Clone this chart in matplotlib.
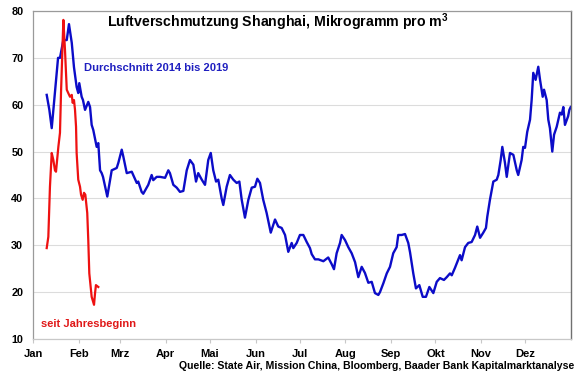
import matplotlib
matplotlib.use("Agg")
import matplotlib.pyplot as plt

plt.rcParams['font.family'] = ['Liberation Sans', 'DejaVu Sans']
plt.rcParams['mathtext.fontset'] = 'custom'
plt.rcParams['mathtext.rm'] = 'Liberation Sans:bold'
plt.rcParams['mathtext.bf'] = 'Liberation Sans:bold'
plt.rcParams['mathtext.it'] = 'Liberation Sans:bold'

# Month tick positions (day of year) and labels
month_days = [0, 31, 59, 90, 120, 151, 181, 212, 243, 273, 304, 334]
month_labels = ["Jan", "Feb", "Mrz", "Apr", "Mai", "Jun", "Jul", "Aug", "Sep", "Okt", "Nov", "Dez"]
yticks = [10, 20, 30, 40, 50, 60, 70, 80]

# Average 2014-2019 (day of year, µg/m3)
avg_day = [9.3, 11.1, 12.7, 17.0, 18.3, 20.6, 22.9, 24.4, 26.3, 27.8, 29.6, 30.7, 31.4, 33.0, 33.9,
           35.3, 37.5, 38.7, 39.8, 40.9, 43.2, 44.3, 45.5, 46.6, 47.5, 50.4, 53.4, 56.8, 57.9, 60.2,
           61.3, 63.6, 67.0, 68.0, 70.4, 71.4, 73.7, 74.8, 78.2, 80.5, 81.6, 83.9, 86.2, 89.6, 91.8,
           92.9, 95.2, 97.5, 99.7, 102.0, 104.3, 106.5, 108.8, 110.6, 112.1, 114.5, 116.7, 118.9, 120.6,
           122.3, 124.2, 125.7, 128.0, 129.1, 131.4, 133.6, 135.9, 138.2, 140.0, 141.6, 143.8, 146.1,
           148.4, 150.6, 152.2, 154.0, 156.2, 158.5, 161.3, 164.2, 166.4, 168.7, 171.0, 173.2, 175.5,
           176.6, 178.9, 181.1, 183.4, 185.7, 187.9, 189.1, 191.3, 193.6, 197.0, 200.3, 202.6, 204.2,
           206.0, 208.3, 209.4, 211.7, 213.9, 216.2, 218.5, 220.7, 223.0, 225.2, 227.5, 229.8, 232.0,
           234.3, 235.4, 237.7, 240.0, 242.2, 244.4, 246.7, 247.8, 250.1, 252.4, 254.6, 255.8, 258.0,
           259.8, 262.1, 264.4, 266.6, 268.9, 271.6, 273.9, 276.1, 278.8, 280.7, 282.9, 284.1, 286.3,
           289.7, 290.8, 293.1, 295.3, 297.6, 299.9, 301.4, 303.3, 305.5, 307.3, 308.2, 310.0, 312.3,
           314.6, 315.7, 317.3, 318.4, 320.2, 321.4, 323.6, 325.9, 328.2, 329.2, 331.5, 332.6, 333.8,
           335.3, 337.2, 338.3, 339.4, 341.0, 342.8, 344.0, 345.8, 346.7, 348.5, 349.6, 350.7, 352.3,
           353.5, 355.3, 357.5, 358.7, 359.8, 360.9, 363.0, 363.9, 364.8]
avg_val = [62.1, 58.9, 55.0, 70.0, 70.0, 73.8, 73.8, 77.2, 73.2, 68.0, 63.8, 62.5, 64.6, 61.7, 61.0,
           58.9, 60.6, 59.5, 55.7, 54.6, 51.0, 51.8, 46.0, 45.4, 44.6, 40.4, 46.0, 46.5, 47.6, 50.4,
           48.9, 45.4, 45.7, 45.0, 43.3, 43.6, 41.4, 41.0, 42.9, 45.0, 43.9, 44.6, 44.6, 44.4, 46.0,
           45.4, 42.9, 42.3, 41.4, 41.6, 46.0, 48.2, 47.2, 43.6, 45.4, 44.0, 42.9, 48.2, 49.7,
           46.0, 43.6, 44.0, 40.0, 38.6, 42.5, 45.0, 44.0, 43.3, 43.6, 39.7, 35.9, 39.7,
           42.3, 42.5, 44.2, 43.3, 39.7, 36.9, 32.7, 35.5, 34.0, 33.7, 32.2, 28.6, 30.5,
           29.4, 30.5, 32.2, 32.2, 30.7, 29.4, 28.1, 27.0, 27.0, 26.6, 27.4, 26.0, 24.9,
           28.3, 30.5, 32.2, 31.1, 29.6, 28.3, 26.4, 23.2, 25.4, 24.1, 22.0, 22.2, 19.8,
           19.4, 20.0, 21.9, 24.0, 25.4, 28.3, 29.6, 32.2, 32.2, 32.4, 30.5, 28.5, 24.0,
           20.8, 21.5, 19.0, 19.0, 21.1, 19.8, 22.2, 23.0, 22.6, 23.2, 24.0, 23.6, 25.2,
           27.9, 26.8, 29.6, 30.5, 30.7, 32.2, 34.0, 31.6, 32.7, 33.7, 36.1, 39.7, 43.6,
           44.0, 45.0, 48.2, 51.0, 47.6, 44.6, 49.7, 49.3, 46.0, 45.0, 48.2, 51.0, 50.8,
           54.2, 56.8, 61.0, 66.8, 65.3, 68.1, 65.3, 61.7, 63.2, 61.0, 56.8, 55.0, 50.0,
           53.6, 55.3, 58.3, 57.9, 59.5, 55.7, 57.5, 58.9, 59.5]

# Since start of year (2020)
cur_day = [9.3, 10.4, 11.5, 12.7, 13.8, 14.9, 15.6, 17.2, 18.3, 19.0, 20.1, 20.6, 21.7, 22.9, 23.9,
           25.1, 26.3, 26.9, 27.8, 28.5, 29.2, 29.6, 30.7, 31.9, 32.6, 33.7, 34.6, 35.5, 36.8, 37.5,
           38.2, 39.8, 41.4, 42.1, 42.7, 44.3]
cur_val = [29.4, 31.8, 42.5, 49.7, 48.2, 46.0, 45.7, 51.0, 54.0, 62.5, 73.2, 78.1, 71.7, 63.2, 62.5,
           61.7, 62.1, 60.4, 61.0, 58.9, 55.3, 49.7, 44.0, 42.5, 40.8, 39.7, 41.2, 40.8, 36.9, 31.1,
           24.0, 19.0, 17.3, 19.8, 21.5, 21.1]

fig = plt.figure(figsize=(5.8, 3.75), dpi=100)
ax = fig.add_axes([33/580, 36/375, 538/580, 328/375])

ax.plot(avg_day, avg_val, color="#0c0cc8", lw=1.7, solid_joinstyle="round")
ax.plot(cur_day, cur_val, color="#ee1111", lw=1.6, solid_joinstyle="round")

ax.set_xlim(0, 365)
ax.set_ylim(10, 80)
ax.set_yticks(yticks)
ax.set_yticklabels([str(v) for v in yticks], fontweight="bold", fontsize=7.8)
ax.set_xticks(month_days)
ax.set_xticklabels(month_labels, fontweight="bold", fontsize=8)
ax.tick_params(axis="y", length=0, pad=7)
ax.tick_params(axis="x", length=3, direction="out", color="#c8c8c8", pad=4)
ax.grid(axis="y", color="#dcdcdc", lw=0.8)
ax.set_axisbelow(True)
for side in ["left", "top"]:
    ax.spines[side].set_color("#9a9a9a")
    ax.spines[side].set_linewidth(0.9)
ax.spines["right"].set_color("#707070")
ax.spines["right"].set_linewidth(1.0)
ax.spines["bottom"].set_color("#c8c8c8")
ax.spines["bottom"].set_linewidth(0.9)

fig.text(107/580, 1 - 22/375, "Luftverschmutzung Shanghai, Mikrogramm pro m$^{3}$",
         fontsize=10.2, fontweight="bold", ha="left", va="center")
fig.text(84/580, 1 - 68/375, "Durchschnitt 2014 bis 2019", fontsize=8, fontweight="bold",
         color="#2020c0", ha="left", va="center")
fig.text(41/580, 1 - 324/375, "seit Jahresbeginn", fontsize=8, fontweight="bold",
         color="#e01818", ha="left", va="center")
fig.text(574/580, 1 - 366/375,
         "Quelle: State Air, Mission China, Bloomberg, Baader Bank Kapitalmarktanalyse",
         fontsize=7.6, fontweight="bold", ha="right", va="center")

fig.savefig("out.png", dpi=100)
